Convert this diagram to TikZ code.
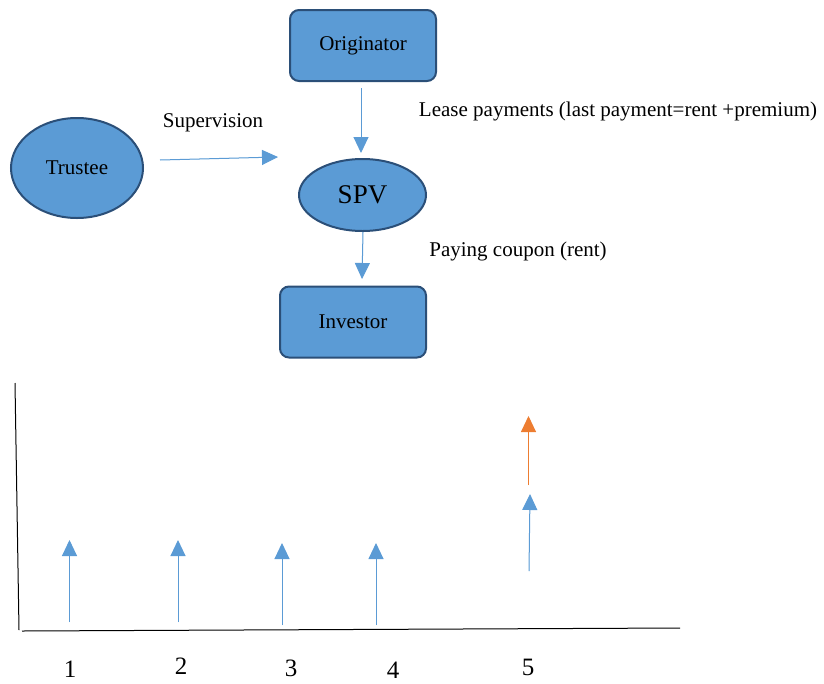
\documentclass[tikz,border=0pt]{standalone}
\usepackage{fontspec}
\setmainfont{Liberation Serif}
\usetikzlibrary{arrows.meta,shapes.geometric}
\definecolor{boxfill}{HTML}{5B9BD5}
\definecolor{boxline}{HTML}{2B4F78}
\definecolor{flowblue}{HTML}{5B9BD5}
\definecolor{flowor}{HTML}{ED7D31}
\begin{document}
\begin{tikzpicture}[x=1pt,y=-1pt,
  txt/.style={font=\fontsize{21}{24}\selectfont, inner sep=0pt},
  box/.style={draw=boxline, fill=boxfill, line width=2pt, rounded corners=9pt, minimum width=146pt, minimum height=71pt, txt},
  oval/.style={draw=boxline, fill=boxfill, line width=2pt, ellipse, inner sep=0pt},
  flow/.style={draw=flowblue, line width=1pt, -{Triangle[width=15pt,length=16pt]}, fill=flowblue},
  flowo/.style={draw=flowor, line width=1pt, -{Triangle[width=15pt,length=16pt]}, fill=flowor},
  axis/.style={draw=black, line width=1pt},
  num/.style={font=\fontsize{25}{28}\selectfont, inner sep=0pt}]
\useasboundingbox (0,0) rectangle (824,683);

% flow diagram
\node[box] (orig) at (363,45.5) {Originator};
\node[oval, txt, minimum width=132pt, minimum height=100pt] (trustee) at (77,168) {Trustee};
\node[oval, font=\fontsize{27}{30}\selectfont, minimum width=127pt, minimum height=72pt] (spv) at (362.5,195) {SPV};
\node[box] (inv) at (353,322) {Investor};

\coordinate (o1) at (361,88);
\coordinate (o2) at (361,153);
\draw[flow] (o1) -- (o2);
\coordinate (s1) at (363,232);
\coordinate (s2) at (362,279);
\draw[flow] (s1) -- (s2);
\coordinate (t1) at (160,160);
\coordinate (t2) at (278,157);
\draw[flow] (t1) -- (t2);

\node[txt] (lease) at (618,111) {Lease payments (last payment=rent +premium)};
\node[txt] (sup) at (213,123) {Supervision};
\node[txt] (coupon) at (518,251) {Paying coupon (rent)};

% cash-flow timeline
\coordinate (yt) at (15,383);
\coordinate (yb) at (19,630);
\draw[axis] (yt) -- (yb);
\coordinate (xl) at (22,631);
\coordinate (xr) at (680,628);
\draw[axis] (xl) -- (xr);

\coordinate (a1) at (69.5,622);  \coordinate (b1) at (69.5,540);
\coordinate (a2) at (178,622);   \coordinate (b2) at (178,540);
\coordinate (a3) at (282,625);   \coordinate (b3) at (282,543);
\coordinate (a4) at (376,625);   \coordinate (b4) at (376,543);
\coordinate (a5) at (529,571);   \coordinate (b5) at (530,494);
\coordinate (c5) at (528.5,485); \coordinate (d5) at (528.5,416);
\draw[flow] (a1) -- (b1);
\draw[flow] (a2) -- (b2);
\draw[flow] (a3) -- (b3);
\draw[flow] (a4) -- (b4);
\draw[flow] (a5) -- (b5);
\draw[flowo] (c5) -- (d5);

\node[num] (n1) at (70,669) {1};
\node[num] (n2) at (181,666) {2};
\node[num] (n3) at (291,668) {3};
\node[num] (n4) at (393,670) {4};
\node[num] (n5) at (528,667) {5};
\end{tikzpicture}
\end{document}
